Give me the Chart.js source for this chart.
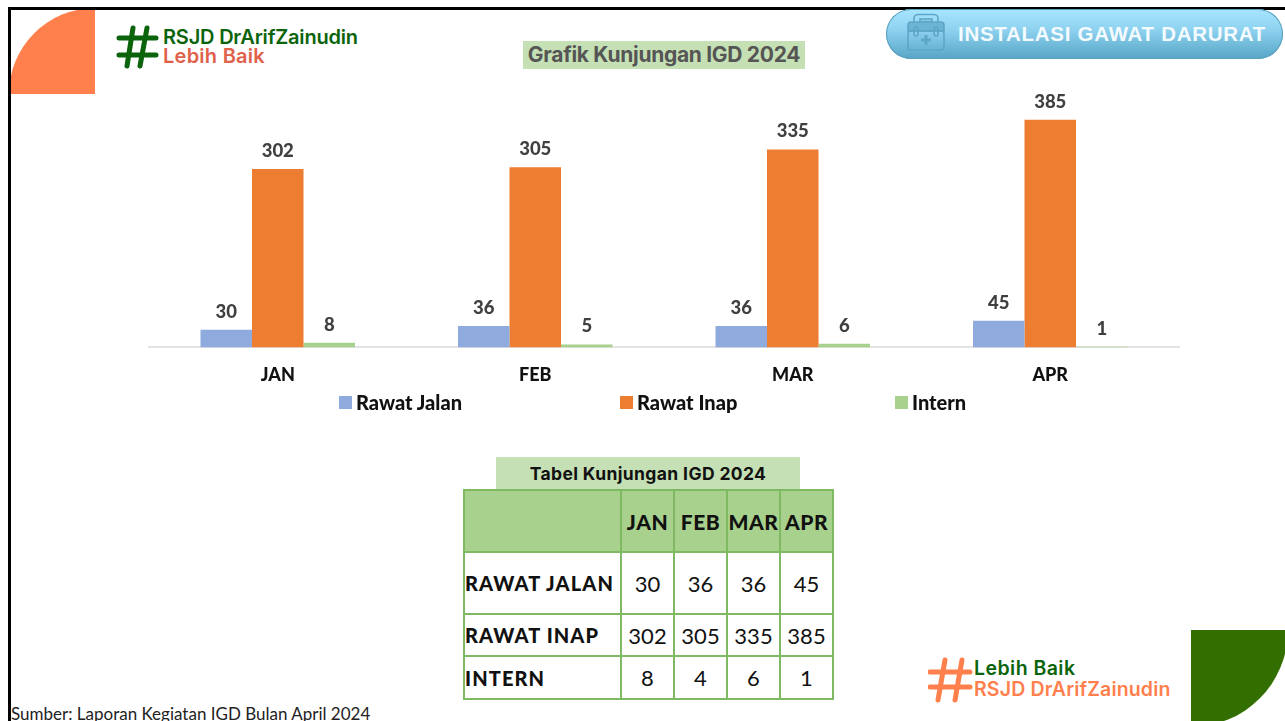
<!DOCTYPE html>
<html><head><meta charset="utf-8">
<script src="https://cdn.jsdelivr.net/npm/chart.js@4"></script>
<style>
html,body{margin:0;padding:0;background:#fff;width:1285px;height:721px;overflow:hidden;font-family:Lato,sans-serif}
.abs{position:absolute;white-space:nowrap}
#chart{position:absolute;left:0;top:0}
table{border-collapse:collapse;table-layout:fixed;position:absolute;left:463px;top:489px;width:369px;color:#111}
td{border:2px solid #7fba62;padding:0;text-align:center;font:400 22px Lato,sans-serif;overflow:hidden;white-space:nowrap}
tr.h td{background:#a9d18e;font:900 21px Lato,sans-serif;letter-spacing:.5px}
td.r{text-align:left;font:900 20px Lato,sans-serif;letter-spacing:1.1px;padding-left:0}
#legend{position:absolute;left:0;top:390px;height:24px;font:900 20px/24px Lato,sans-serif;color:#111}
#legend span.i{position:absolute;top:0;white-space:nowrap;padding-left:17px}
#legend span.b{position:absolute;left:0;top:6px;width:13px;height:13px}
</style></head><body>
<div class="abs" style="left:8px;top:7px;width:1277px;height:3px;background:#000"></div>
<div class="abs" style="left:8px;top:7px;width:3px;height:714px;background:#000"></div>
<div class="abs" style="left:11px;top:10px;width:84px;height:84px;background:#ff804d;clip-path:circle(86px at 84px 84px)"></div>
<div class="abs" style="left:1191px;top:630px;width:94px;height:91px;background:#336f00;clip-path:circle(97px at 0px 0px)"></div>

<svg class="abs" style="left:115px;top:24px" width="46" height="46" viewBox="0 0 46 46" stroke="#0b640b" stroke-width="5" stroke-linecap="round" fill="none"><path d="M18 4L12 42M32 4L25 42M4 14H41M4 31H41"/></svg>
<div class="abs" style="left:163px;top:26px;font:600 20px/23px Inter,sans-serif;letter-spacing:-.2px;color:#0b640b">RSJD DrArifZainudin</div>
<div class="abs" style="left:163px;top:45px;font:600 20px/23px Inter,sans-serif;letter-spacing:.25px;color:#e0604a">Lebih Baik</div>

<div class="abs" style="left:523px;top:41px;width:282px;height:28px;background:#c5e0b4;text-align:center;font:700 21px/28px Inter,sans-serif;letter-spacing:-.3px;color:#555">Grafik Kunjungan IGD 2024</div>

<div class="abs" style="left:886px;top:9px;width:397px;height:50px;border-radius:25px;background:linear-gradient(#a8e5ff 0%,#8fd3f0 40%,#57a5c6 100%);box-shadow:inset 0 0 0 1px #5a9fbd"></div>
<svg class="abs" style="left:906px;top:13px" width="40" height="40" viewBox="0 0 40 40" fill="none" stroke="#5ea6c6" stroke-width="1.6">
<rect x="8" y="1.5" width="24" height="12" rx="4"/><rect x="14" y="6" width="12" height="2.5"/>
<path d="M2 12a3 3 0 0 1 3-3h30a3 3 0 0 1 3 3v6H2z" fill="#6db4d2"/><rect x="2" y="18" width="36" height="19" rx="3"/>
<rect x="8" y="14" width="4" height="9" rx="2"/><rect x="28" y="14" width="4" height="9" rx="2"/><path d="M20 22v10M15 27h10" stroke-width="3"/></svg>
<div class="abs" style="left:958px;top:20px;font:700 20.5px/28px 'Liberation Sans',sans-serif;letter-spacing:.72px;color:#f4fbff">INSTALASI GAWAT DARURAT</div>

<canvas id="chart" width="1285" height="404" style="width:1285px;height:404px"></canvas>
<div id="legend"></div>

<div class="abs" style="left:496px;top:457px;width:304px;height:32px;background:#c5e0b4;text-align:center;font:700 17.5px/34px Inter,sans-serif;letter-spacing:.37px;color:#111">Tabel Kunjungan IGD 2024</div>
<table id="tbl"><colgroup><col style="width:157px"><col style="width:53px"><col style="width:53px"><col style="width:53px"><col style="width:53px"></colgroup><tbody id="tb"></tbody></table>

<svg class="abs" style="left:928px;top:657px" width="46" height="46" viewBox="0 0 46 46" stroke="#ff804d" stroke-width="5" stroke-linecap="round" fill="none"><path d="M17 3L10 43M34 3L27 43M2 15H42M2 30H42"/></svg>
<div class="abs" style="left:974px;top:657px;font:600 19.5px/23px Inter,sans-serif;letter-spacing:.45px;color:#0b640b">Lebih Baik</div>
<div class="abs" style="left:974px;top:678px;font:600 19.5px/23px Inter,sans-serif;letter-spacing:.15px;color:#ff804d">RSJD DrArifZainudin</div>

<div class="abs" style="left:11px;top:705px;font:400 17px/18px Lato,sans-serif;color:#222">Sumber: Laporan Kegiatan IGD Bulan April 2024</div>

<script>
const categories = ['JAN','FEB','MAR','APR'];
const rawatJalan = [30,36,36,45];
const rawatInap = [302,305,335,385];
const intern = [8,5,6,1];
const tableHeaders = ['JAN','FEB','MAR','APR'];
const tableRawatJalan = [30,36,36,45];
const tableRawatInap = [302,305,335,385];
const tableIntern = [8,4,6,1];
const legendLefts = [339,620,895];

const rows = [['RAWAT JALAN',tableRawatJalan,62],['RAWAT INAP',tableRawatInap,42],['INTERN',tableIntern,43]];
const tb = document.getElementById('tb');
let html = '<tr class="h" style="height:62px"><td></td>' + tableHeaders.map(h=>'<td>'+h+'</td>').join('') + '</tr>';
rows.forEach(r=>{ html += '<tr style="height:'+r[2]+'px"><td class="r">'+r[0]+'</td>' + r[1].map(v=>'<td>'+v+'</td>').join('') + '</tr>'; });
tb.innerHTML = html;

const valueLabels = {
  id:'valueLabels',
  afterDatasetsDraw(chart){
    const ctx = chart.ctx;
    ctx.save();
    ctx.font = '900 18.5px Lato, sans-serif';
    ctx.fillStyle = '#404040';
    ctx.textAlign = 'center';
    ctx.textBaseline = 'middle';
    chart.data.datasets.forEach((ds,i)=>{
      chart.getDatasetMeta(i).data.forEach((bar,j)=>{
        ctx.fillText(ds.data[j], bar.x, bar.y-18);
      });
    });
    ctx.restore();
  }
};
const chart = new Chart(document.getElementById('chart'),{
  type:'bar',
  data:{labels:categories,datasets:[
    {label:'Rawat Jalan',data:rawatJalan,backgroundColor:'#8faadc'},
    {label:'Rawat Inap',data:rawatInap,backgroundColor:'#ed7d31'},
    {label:'Intern',data:intern,backgroundColor:'#a9d18e'}
  ]},
  options:{
    responsive:false,animation:false,
    layout:{padding:{left:149,right:106,top:111,bottom:9}},
    datasets:{bar:{categoryPercentage:0.6,barPercentage:1}},
    scales:{
      x:{grid:{display:false},border:{color:'#e3e3e3',width:2},
         ticks:{color:'#111',font:{family:'Lato',size:18,weight:'900'},padding:9,maxRotation:0}},
      y:{display:false,min:0,max:400}
    },
    plugins:{tooltip:{enabled:false},legend:{display:false}}
  },
  plugins:[valueLabels]
});
document.getElementById('legend').innerHTML = chart.data.datasets.map((d,i)=>
  '<span class="i" style="left:'+legendLefts[i]+'px"><span class="b" style="background:'+d.backgroundColor+'"></span>'+d.label+'</span>').join('');
</script>
</body></html>
